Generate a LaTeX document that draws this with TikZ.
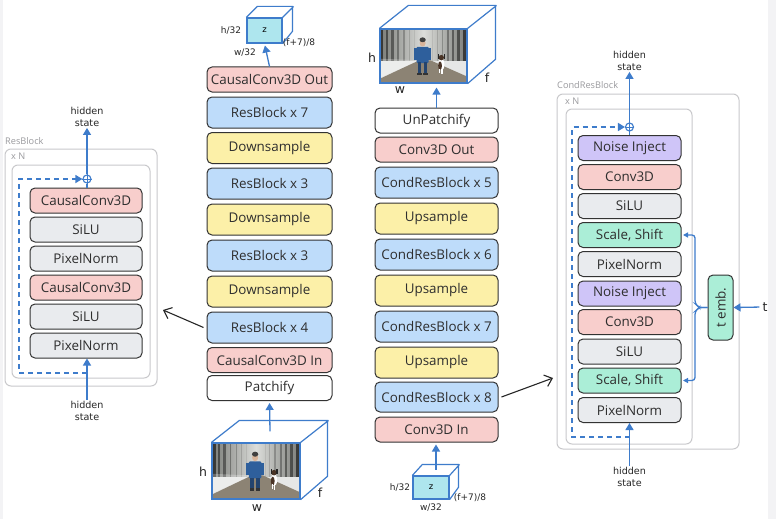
\documentclass[tikz,border=0pt]{standalone}
\usepackage{fontspec}
\usepackage{graphicx}
\setmainfont{Open Sans}
\newfontfamily\handfont{DejaVu Sans}
\usetikzlibrary{arrows.meta,calc}

\definecolor{cpink}{HTML}{F8CECC}
\definecolor{cblue}{HTML}{BEDCFA}
\definecolor{cyellow}{HTML}{FCF0A8}
\definecolor{cgrey}{HTML}{E9EBEE}
\definecolor{cgreen}{HTML}{ABEED7}
\definecolor{cpurple}{HTML}{CFC5F8}
\definecolor{cline}{HTML}{3E7CCB}
\definecolor{ccyan}{HTML}{AEE6EE}
\definecolor{cborder}{HTML}{333333}
\definecolor{cpanel}{HTML}{C9C9CC}
\definecolor{cpaneltext}{HTML}{9A9A9E}
\definecolor{cstrip}{HTML}{F3F3F5}
\definecolor{cfogdark}{HTML}{7A7C78}
\definecolor{cfoglight}{HTML}{DCDDDA}
\definecolor{croad}{HTML}{8C8374}
\definecolor{csnow}{HTML}{E6E7E6}
\definecolor{cboy}{HTML}{2E5F9C}
\definecolor{cboyleg}{HTML}{24446E}
\definecolor{cskin}{HTML}{D9B49A}
\definecolor{cdog}{HTML}{4A3426}

\newcommand{\forestphoto}[4]{%
 \begin{scope}[shift={(#1,#2)}, x=#3pt, y=-#4pt]
   \clip (0,0) rectangle (1,1);
   \fill[left color=cfogdark, right color=cfogdark, middle color=cfoglight] (0,0) rectangle (1,1);
   \foreach \tx/\tw/\to in {0.0/0.04/0.55, 0.07/0.025/0.45, 0.13/0.03/0.4, 0.2/0.02/0.3, 0.27/0.015/0.22, 0.33/0.012/0.14, 0.39/0.01/0.08,
                            0.6/0.01/0.08, 0.65/0.012/0.14, 0.71/0.015/0.22, 0.77/0.02/0.3, 0.83/0.025/0.4, 0.89/0.03/0.45, 0.95/0.05/0.55}
     {\fill[black, fill opacity=\to] (\tx,0) rectangle (\tx+\tw,0.72);}
   \fill[csnow] (0,0.6) rectangle (1,1);
   \fill[croad] (0.45,0.58) -- (0.58,0.58) -- (1.0,0.88) -- (1,1) -- (0,1) -- (0,0.92) -- cycle;
   \fill[white, fill opacity=0.25] (0,0.55) -- (0.45,0.58) -- (0,0.9) -- cycle;
   % boy
   \fill[cboy, rounded corners=1pt] (0.42,0.33) rectangle (0.56,0.63);
   \fill[cboy] (0.39,0.36) rectangle (0.43,0.58);
   \fill[cboy] (0.55,0.36) rectangle (0.59,0.58);
   \fill[cboyleg] (0.435,0.62) rectangle (0.475,0.82);
   \fill[cboyleg] (0.5,0.62) rectangle (0.54,0.82);
   \fill[black!80] (0.43,0.81) rectangle (0.48,0.85);
   \fill[black!80] (0.495,0.81) rectangle (0.55,0.85);
   \fill[cskin] (0.49,0.26) ellipse [x radius=0.035, y radius=0.065];
   \fill[black!75] (0.49,0.2) ellipse [x radius=0.036, y radius=0.045];
   % dog
   \fill[white] (0.705,0.66) ellipse [x radius=0.035, y radius=0.11];
   \fill[cdog] (0.69,0.68) ellipse [x radius=0.022, y radius=0.08];
   \fill[cdog] (0.705,0.53) ellipse [x radius=0.03, y radius=0.05];
   \fill[black!85] (0.665,0.47) rectangle (0.68,0.56);
   \fill[black!85] (0.73,0.47) rectangle (0.745,0.56);
   \fill[white] (0.70,0.74) rectangle (0.72,0.84);
   \fill[white] (0.68,0.74) rectangle (0.695,0.82);
 \end{scope}}

\tikzset{
  box/.style={draw=cborder, line width=1pt, rounded corners=5pt, minimum width=125pt,
    minimum height=25pt, inner sep=0pt, text=black!82, font=\fontsize{13.4}{15}\selectfont},
  tall/.style={minimum height=31pt},
  lbox/.style={box, minimum width=112pt},
  rbox/.style={box, minimum width=103pt},
  arr/.style={draw=cline, line width=1.3pt, -{Triangle[length=7pt,width=8pt]}},
  link/.style={draw=cline, line width=1.3pt},
  skipline/.style={draw=cline, line width=1.3pt, dash pattern=on 5pt off 4pt, -{Triangle[length=7pt,width=8pt]}},
  hand/.style={font=\handfont\fontsize{9.6}{12}\selectfont, align=center, inner sep=1pt, text=black!85},
  handbig/.style={font=\handfont\fontsize{12.5}{13}\selectfont, inner sep=0pt, text=black!85},
  handsmall/.style={font=\handfont\fontsize{9}{10}\selectfont, inner sep=0pt, text=black!85},
  panel/.style={draw=cpanel, line width=1pt, rounded corners=6pt, inner sep=0pt},
  paneltext/.style={text=cpaneltext, font=\fontsize{9.2}{10}\selectfont, inner sep=0pt, anchor=west},
  cube/.style={draw=cline, line width=1.2pt},
  zface/.style={draw=cline, line width=1.2pt, fill=ccyan, inner sep=0pt, font=\handfont\fontsize{8.5}{9}\selectfont},
  oplusnode/.style={circle, draw=cline, line width=1.1pt, minimum size=8pt, inner sep=0pt},
  bigarr/.style={draw=black!85, line width=1.1pt, -{Straight Barb[length=7pt,width=12pt]}}
}

\begin{document}
\begin{tikzpicture}[x=1pt,y=-1pt]
\useasboundingbox (0,0) rectangle (776,519);
\fill[white] (0,0) rectangle (776,519);
\fill[cstrip] (768,0) rectangle (776,519);
\fill[cstrip] (0,0) rectangle (3,519);

% ===== Encoder column =====
\node[box, fill=cpink] (e1) at (269.5,79.5) {CausalConv3D Out};
\node[box, tall, fill=cblue] (e2) at (269.5,112.5) {ResBlock x 7};
\node[box, tall, fill=cyellow] (e3) at (269.5,148) {Downsample};
\node[box, tall, fill=cblue] (e4) at (269.5,183.5) {ResBlock x 3};
\node[box, tall, fill=cyellow] (e5) at (269.5,219.5) {Downsample};
\node[box, tall, fill=cblue] (e6) at (269.5,255.5) {ResBlock x 3};
\node[box, tall, fill=cyellow] (e7) at (269.5,291.5) {Downsample};
\node[box, tall, fill=cblue] (e8) at (269.5,327.5) {ResBlock x 4};
\node[box, fill=cpink] (e9) at (269.5,360) {CausalConv3D In};
\node[box, fill=white] (e10) at (269.5,388) {Patchify};

% encoder latent cube
\node[zface, minimum width=35pt, minimum height=25pt] (ez) at (264.5,30.5) {z};
\draw[cube] (ez.north west) -- ++(11,-11) -- ++(35,0) -- ++(0,25) -- (ez.south east)
            (ez.north east) -- ++(11,-11);
\node[handsmall] (ezh) at (231,30) {h/32};
\node[handsmall] (ezw) at (245,53) {w/32};
\node[handsmall] (ezf) at (299,43) {(f+7)/8};
\draw[arr, shorten >=2pt] (e1.north) -- (ez.south);

% encoder input image cube
\forestphoto{212}{443}{88}{56}
\node[draw=cline, line width=1.2pt, minimum width=88pt, minimum height=56pt, inner sep=0pt] (eimg) at (256,471) {};
\draw[cube] (eimg.north west) -- ++(28,-22) -- ++(88,0) -- ++(0,56) -- (eimg.south east)
            (eimg.north east) -- ++(28,-22);
\coordinate (eimgtop) at ($(eimg.north)+(14,-11)$);
\node[handbig] (eimgh) at (203,472) {h};
\node[handbig] (eimgw) at (257,508) {w};
\node[handbig] (eimgf) at (320,493) {f};
\draw[arr, shorten >=2pt] (eimgtop) -- (e10.south);

% ===== Decoder column =====
\node[box, fill=white, minimum width=123pt] (d1) at (436.5,120.5) {UnPatchify};
\node[box, fill=cpink, minimum width=123pt] (d2) at (436.5,149.5) {Conv3D Out};
\node[box, tall, fill=cblue, minimum width=123pt] (d3) at (436.5,182.5) {CondResBlock x 5};
\node[box, tall, fill=cyellow, minimum width=123pt] (d4) at (436.5,218.5) {Upsample};
\node[box, tall, fill=cblue, minimum width=123pt] (d5) at (436.5,254.5) {CondResBlock x 6};
\node[box, tall, fill=cyellow, minimum width=123pt] (d6) at (436.5,290.5) {Upsample};
\node[box, tall, fill=cblue, minimum width=123pt] (d7) at (436.5,326.5) {CondResBlock x 7};
\node[box, tall, fill=cyellow, minimum width=123pt] (d8) at (436.5,362.5) {Upsample};
\node[box, fill=cblue, minimum width=123pt, minimum height=30pt] (d9) at (436.5,397) {CondResBlock x 8};
\node[box, fill=cpink, minimum width=123pt] (d10) at (436.5,429.5) {Conv3D In};

% decoder output image cube
\forestphoto{380}{29}{87}{54}
\node[draw=cline, line width=1.2pt, minimum width=87pt, minimum height=54pt, inner sep=0pt] (dimg) at (423.5,56) {};
\draw[cube] (dimg.north west) -- ++(29,-23) -- ++(87,0) -- ++(0,54) -- (dimg.south east)
            (dimg.north east) -- ++(29,-23);
\node[handbig] (dimgh) at (372,58) {h};
\node[handbig] (dimgw) at (400,90) {w};
\node[handbig] (dimgf) at (487,78) {f};
\draw[arr, shorten >=4pt] (d1.north) -- (d1.north |- dimg.south);

% decoder latent cube
\node[zface, minimum width=36pt, minimum height=23pt] (dz) at (431,487.5) {z};
\draw[cube] (dz.north west) -- ++(10,-11) -- ++(36,0) -- ++(0,23) -- (dz.south east)
            (dz.north east) -- ++(10,-11);
\coordinate (dztop) at ($(dz.north)+(5,-5.5)$);
\node[handsmall] (dzh) at (400,487) {h/32};
\node[handsmall] (dzw) at (431,508) {w/32};
\node[handsmall] (dzf) at (470,498) {(f+7)/8};
\draw[arr, shorten >=2pt] (dztop) -- (dztop |- d10.south);

% ===== Left ResBlock panel =====
\node[panel, minimum width=152pt, minimum height=237pt] (lout) at (81,267.5) {};
\node[panel, minimum width=138pt, minimum height=213pt] (lin) at (81,271.5) {};
\node[paneltext] (ltitle) at (5,141) {ResBlock};
\node[paneltext] (lxn) at (11,156.5) {x N};
\node[lbox, fill=cpink] (l1) at (86,200.5) {CausalConv3D};
\node[lbox, fill=cgrey] (l2) at (86,229.5) {SiLU};
\node[lbox, fill=cgrey] (l3) at (86,258.5) {PixelNorm};
\node[lbox, fill=cpink] (l4) at (86,287.5) {CausalConv3D};
\node[lbox, fill=cgrey] (l5) at (86,316.5) {SiLU};
\node[lbox, fill=cgrey] (l6) at (86,345.5) {PixelNorm};
\node[oplusnode] (lplus) at (87,179) {};
\draw[cline, line width=1pt] (lplus.north) -- (lplus.south) (lplus.west) -- (lplus.east);
\draw[link] (lplus.south) -- (lplus.south |- l1.north);
\node[hand] (lhout) at (87,117) {hidden\\state};
\draw[arr] (lplus.north) -- (lhout.south);
\node[hand] (lhin) at (87,411) {hidden\\state};
\draw[arr] (lhin.north) -- (lhin.north |- l6.south);
\coordinate (lsk) at (87,373);
\draw[skipline] (lsk) -- (19,373) -- (19,179) -- (lplus.west);

% ===== Right CondResBlock panel =====
\node[panel, minimum width=182pt, minimum height=355pt] (rout) at (648,271.5) {};
\node[panel, minimum width=126pt, minimum height=335pt] (rin) at (629,276.5) {};
\node[paneltext] (rtitle) at (557,85) {CondResBlock};
\node[paneltext] (rxn) at (565,101) {x N};
\node[rbox, fill=cpurple] (r1) at (629.5,148) {Noise Inject};
\node[rbox, fill=cpink] (r2) at (629.5,177) {Conv3D};
\node[rbox, fill=cgrey] (r3) at (629.5,206) {SiLU};
\node[rbox, fill=cgreen] (r4) at (629.5,235) {Scale, Shift};
\node[rbox, fill=cgrey] (r5) at (629.5,264) {PixelNorm};
\node[rbox, fill=cpurple] (r6) at (629.5,293.5) {Noise Inject};
\node[rbox, fill=cpink] (r7) at (629.5,322) {Conv3D};
\node[rbox, fill=cgrey] (r8) at (629.5,351.5) {SiLU};
\node[rbox, fill=cgreen] (r9) at (629.5,380.5) {Scale, Shift};
\node[rbox, fill=cgrey] (r10) at (629.5,410) {PixelNorm};
\node[oplusnode] (rplus) at (629.5,127) {};
\draw[cline, line width=1pt] (rplus.north) -- (rplus.south) (rplus.west) -- (rplus.east);
\draw[link] (rplus.south) -- (rplus.south |- r1.north);
\node[hand] (rhout) at (629.5,61) {hidden\\state};
\draw[arr] (rplus.north) -- (rhout.south);
\node[hand] (rhin) at (629.5,477) {hidden\\state};
\draw[arr] (rhin.north) -- (rhin.north |- r10.south);
\coordinate (rsk) at (629.5,437);
\draw[skipline] (rsk) -- (572,437) -- (572,127) -- (rplus.west);

% time embedding
\node[box, fill=cgreen, minimum width=25pt, minimum height=65pt] (temb) at (720.5,307.5) {\rotatebox{90}{t emb.}};
\node[handbig] (tlab) at (765,307) {t};
\draw[arr, shorten <=3pt] (tlab.west) -- (temb.east);
\coordinate (bj) at (699,307.5);
\draw[link, rounded corners=3pt, shorten >=1.5pt, -{Triangle[length=5pt,width=5pt]}]
  (temb.west) -- (bj) -- (695,303.5) |- (r4.east);
\draw[link, rounded corners=3pt, shorten >=1.5pt, -{Triangle[length=5pt,width=5pt]}]
  (temb.west) -- (bj) -- (695,311.5) |- (r9.east);

% ===== connectors between columns and panels =====
\coordinate (ltip) at (163,310);
\draw[bigarr] ([xshift=-3pt]e8.west) -- (ltip);
\coordinate (rtip) at (553,378);
\draw[bigarr] ([xshift=3pt]d9.east) -- (rtip);
\end{tikzpicture}
\end{document}
